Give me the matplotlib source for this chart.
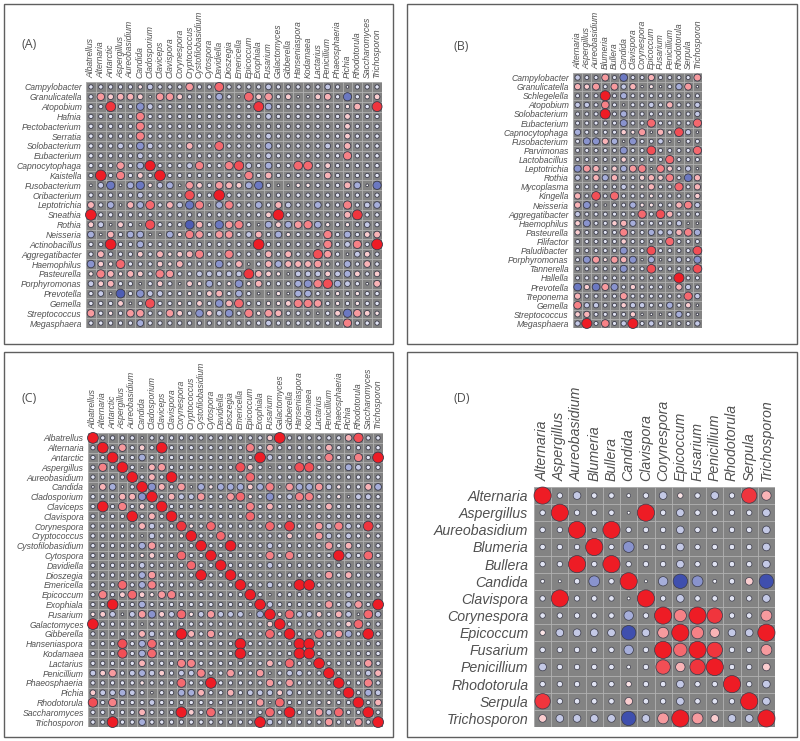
import numpy as np
import matplotlib
matplotlib.use("Agg")
import matplotlib.pyplot as plt
from matplotlib.patches import Ellipse, Rectangle
from matplotlib.colors import to_rgb

W, H = 800, 741
BASE = -1

FUNGI_30 = ["Albatrellus","Alternaria","Antarctic","Aspergillus","Aureobasidium","Candida","Cladosporium",
            "Claviceps","Clavispora","Corynespora","Cryptococcus","Cystofilobasidium","Cytospora","Davidiella",
            "Dioszegia","Emericella","Epicoccum","Exophiala","Fusarium","Galactomyces","Gibberella",
            "Hanseniaspora","Kodamaea","Lactarius","Penicillium","Phaeosphaeria","Pichia","Rhodotorula",
            "Saccharomyces","Trichosporon"]
FUNGI_14 = ["Alternaria","Aspergillus","Aureobasidium","Blumeria","Bullera","Candida","Clavispora",
            "Corynespora","Epicoccum","Fusarium","Penicillium","Rhodotorula","Serpula","Trichosporon"]
BACT_A = ["Campylobacter","Granulicatella","Atopobium","Hafnia","Pectobacterium","Serratia","Solobacterium",
          "Eubacterium","Capnocytophaga","Kaistella","Fusobacterium","Oribacterium","Leptotrichia","Sneathia",
          "Rothia","Neisseria","Actinobacillus","Aggregatibacter","Haemophilus","Pasteurella","Porphyromonas",
          "Prevotella","Gemella","Streptococcus","Megasphaera"]
BACT_B = ["Campylobacter","Granulicatella","Schlegelella","Atopobium","Solobacterium","Eubacterium",
          "Capnocytophaga","Fusobacterium","Parvimonas","Lactobacillus","Leptotrichia","Rothia","Mycoplasma",
          "Kingella","Neisseria","Aggregatibacter","Haemophilus","Pasteurella","Filifactor","Paludibacter",
          "Porphyromonas","Tannerella","Hallella","Prevotella","Treponema","Gemella","Streptococcus","Megasphaera"]

# Correlations in tenths, one {column: value} per row; unlisted cells read as BASE.
VALUES_A = [
 {10:4,13:6,6:-2,5:1,18:-2,24:-2,26:0},
 {1:4,2:2,3:3,4:3,5:2,6:0,7:4,8:4,9:2,13:-3,15:0,16:6,17:2,18:4,20:2,21:0,22:0,23:2,24:3,26:-5,28:1,29:2},
 {2:8,5:-4,6:-2,17:8,18:-3,24:1,26:1,27:3,29:8},
 {5:5,18:-2,26:2},
 {5:5,26:2},
 {5:5,18:-2,26:2},
 {3:-2,5:-4,6:-2,10:3,13:6,18:-3,24:-2,26:3},
 {5:-2,18:-2,26:5},
 {3:4,5:-3,6:9,10:-2,11:5,14:5,15:7,16:-2,18:-3,21:6,22:6,24:2},
 {1:10,3:5,5:2,7:10,16:5,18:3,24:3},
 {0:0,1:-2,2:-5,3:0,4:-3,5:-5,6:1,7:-2,8:-3,9:0,10:4,11:2,13:4,14:3,15:2,16:-3,17:-5,19:0,20:0,21:1,22:1,26:3,27:-3,28:0,29:-5},
 {5:-2,10:7,13:10},
 {0:3,2:-3,3:0,4:3,5:-3,6:6,8:3,9:-2,10:-5,11:5,12:0,13:-3,14:5,17:-3,19:3,20:-2,23:-3,26:5,28:-2,29:-3},
 {0:10,19:10,18:2,26:3,27:8},
 {0:2,1:-2,2:0,3:2,5:0,6:7,10:-6,11:3,13:-5,14:4,15:5,17:0,18:-3,19:2,20:-3,21:4,22:5,23:-3,24:1,26:1,28:-2},
 {0:-3,1:0,2:3,4:-3,5:-3,6:0,7:0,8:-3,9:1,10:5,11:4,13:4,14:4,16:-2,17:3,19:-3,20:1,24:5,26:-3,28:2,29:3},
 {2:10,5:-3,17:10,24:5,26:-2,27:5,29:10},
 {1:3,5:2,7:3,8:1,9:2,10:3,11:5,14:5,18:3,20:3,23:7,24:4,26:0,27:-2,28:2},
 {0:-4,1:2,2:1,3:6,7:2,8:1,9:3,13:-4,15:3,16:0,18:3,19:-3,20:3,21:3,22:3,23:4,24:1,26:-3,28:3},
 {0:1,1:5,2:3,3:1,4:3,5:2,7:5,8:4,11:-2,12:-2,13:-2,14:-2,15:-2,16:8,17:3,18:2,19:1,20:0,21:-2,22:-2,23:-2,24:2,25:-2,26:-3,27:2,29:2},
 {0:-2,1:2,2:3,5:0,7:2,9:0,10:2,11:1,12:-3,14:1,15:-4,16:1,17:3,21:-3,22:-4,23:5,24:7,25:-3,26:-2,28:0,29:3},
 {1:-2,2:0,3:-6,5:-4,6:-2,7:-2,10:1,12:2,13:3,15:-3,17:0,18:0,19:1,20:0,21:-3,22:-3,25:1,27:1},
 {3:2,4:0,6:7,9:1,11:2,13:-4,14:3,15:6,18:1,19:1,20:2,21:5,22:5,23:4,25:1,27:1},
 {0:4,2:1,4:4,5:4,8:4,9:2,11:-4,12:2,13:-2,14:-4,16:5,17:1,18:4,19:3,23:0,25:2,26:-5,27:4,28:2,29:1},
 {5:-3,18:-2,26:5},
]
VALUES_B = [
 {0:-2,3:4,5:-5,8:3,13:4},
 {0:3,1:2,2:4,4:4,5:-2,6:3,7:0,8:1,9:0,11:-3,12:4,13:0},
 {3:10,5:-3},
 {0:-2,1:-2,3:5,5:0,8:-2,10:3,13:-2},
 {3:10,5:-3,13:-2},
 {5:-4,8:6,13:6},
 {0:-3,5:2,6:1,7:4,8:0,9:3,10:1,11:7,12:-2,13:0},
 {1:-4,2:-4,3:3,4:-3,5:0,6:-4,9:-2,10:0,11:0},
 {5:-4,8:7,13:6},
 {5:2,10:6},
 {0:-4,1:4,2:3,4:2,5:-3,6:4,7:5,8:0,9:5,10:2,12:-2,13:0},
 {0:-2,2:3,3:-3,4:3,7:2,8:3,9:2,10:5,12:-5,13:3},
 {5:-2,7:1,8:3,11:6,13:3},
 {0:3,2:7,4:6,8:1,13:2},
 {0:3,1:-4,3:0,6:-3,7:1,8:1,11:3,12:5,13:-2},
 {0:-2,7:6,9:7,10:3},
 {0:2,1:-4,4:2,5:3,6:-3,11:-2,12:0,13:0},
 {0:2,5:5,8:-3,9:-2,10:-2,11:3,12:5,13:-3},
 {5:2,10:6},
 {5:-4,8:7,13:7},
 {1:-4,2:4,3:1,4:4,5:3,6:-4,7:0,8:-3,9:0,11:-2,13:-4},
 {5:-4,8:7,13:7},
 {11:10},
 {0:-5,1:2,2:-5,3:4,4:-4,6:2,10:0,11:3,12:-2},
 {0:3,5:4,12:6,13:-2},
 {0:5,1:-2,2:-2,5:2,6:-2,7:-2,10:-3,12:2,13:0},
 {0:2,1:3,6:2,7:0,8:0,9:0,11:-3,13:0},
 {0:-2,1:10,3:5,5:-2,6:10,8:-2,13:-2},
]
VALUES_C = [
 {0:10,5:0,18:2,19:10,26:3,27:7},
 {1:10,3:4,5:2,7:10,16:5,18:3,24:3},
 {2:10,5:-3,17:10,18:-2,24:5,27:5,29:10},
 {1:5,3:10,5:0,6:3,7:4,15:7,16:2,18:0,21:7,22:7,26:-3,27:-2},
 {4:10,6:3,8:10,16:6},
 {0:0,1:3,2:-3,3:0,5:10,6:-4,7:3,9:4,10:0,11:-3,12:1,13:-3,14:-3,15:-3,16:2,17:-3,18:5,19:0,20:4,21:-3,22:-3,23:4,24:-2,25:1,28:3,29:-3},
 {3:3,4:3,5:-4,6:10,8:3,9:-2,10:-2,11:4,14:4,15:6,16:1,18:-4,20:-2,21:5,22:5,25:1,26:0,27:-2,28:-2},
 {1:10,3:5,5:2,7:10,16:5,18:3,24:3},
 {4:10,6:3,8:10,16:6},
 {5:3,6:-2,9:8,10:1,12:6,18:6,20:8,23:4,24:-2,25:5,26:-2,28:8},
 {5:0,6:-2,9:1,10:10,13:6,20:2,23:4,24:-2,26:-2,28:1},
 {5:-3,6:4,11:10,14:10,18:-2,24:4,26:3},
 {5:1,6:2,9:6,12:10,18:5,20:5,25:10,26:-2,28:6},
 {5:-2,10:6,13:10,18:-2},
 {5:-3,6:4,11:10,14:10,24:4,26:3},
 {3:6,5:-3,6:5,15:10,18:-2,21:10,22:10},
 {1:5,3:2,4:6,5:2,6:1,7:4,8:5,16:10,18:0,26:-2},
 {2:10,5:-3,17:10,18:-2,24:4,26:-2,27:4,29:10},
 {0:1,1:2,2:-2,3:0,4:-2,5:4,6:-4,7:2,8:-2,9:6,10:1,11:-2,12:4,13:-2,14:-2,15:-2,16:0,17:-3,18:10,19:1,20:6,21:-2,22:-2,23:2,25:3,26:-2,27:0,28:6,29:-2},
 {0:10,5:0,18:2,19:10,26:2,27:6},
 {5:3,6:-2,9:10,10:3,12:4,18:6,20:10,23:6,24:-2,25:4,26:-3,28:10},
 {3:7,5:-3,6:6,15:10,21:10,22:10},
 {3:7,5:-3,6:6,15:10,21:10,22:10},
 {5:3,9:5,10:5,18:3,20:6,23:10,28:4},
 {0:-2,1:2,2:4,4:-2,5:-3,6:-2,7:2,9:-2,10:-2,11:5,14:4,17:4,18:0,20:-2,21:-2,24:10,28:-2,29:3},
 {5:1,9:6,12:10,18:4,20:4,25:10,28:5},
 {0:2,1:-2,2:-2,3:-3,4:-2,6:0,9:-3,10:-3,11:3,14:3,16:-2,17:-2,18:-2,19:2,20:-2,26:10,28:-3,29:-2},
 {0:7,2:5,6:-2,17:4,18:0,19:6,24:1,27:10,29:3},
 {5:3,9:10,10:2,12:6,18:6,20:10,23:4,24:-2,25:6,28:10},
 {2:10,5:-3,17:10,18:-2,24:4,27:4,29:10},
]
VALUES_D = [
 {0:10,2:-2,5:-0.5,7:-2,8:1,10:-2,12:8,13:3},
 {1:10,5:0,6:10,8:-2,13:-2},
 {2:10,4:10,8:-2,13:-2},
 {3:10,5:-4,8:-2,13:-2},
 {2:10,4:10,8:-2,13:-2},
 {0:-0.5,1:0,3:-4,5:10,6:0,7:-3,8:-7,9:-4,10:-0.5,12:2,13:-7},
 {1:10,5:0,6:10,8:-2,13:-2},
 {5:-3,7:10,8:5,9:10,10:8,13:4},
 {0:1,1:-2,2:-2,3:-2,4:-2,5:-7,6:-2,7:4,8:10,9:5,10:3,11:-2,12:-2,13:10},
 {5:-3,7:10,8:6,9:10,10:8,13:4},
 {0:-2,5:-0.5,7:7,8:3,9:8,10:10,13:2},
 {5:1,8:-2,11:10,13:-2},
 {0:8,5:2,8:-2,12:10,13:-2},
 {0:2,1:-2,2:-2,3:-2,4:-2,5:-7,6:-2,7:4,8:10,9:4,10:2,11:-2,12:-2,13:10},
]

RED = np.array(to_rgb("#ee1c25"))
BLUE = np.array(to_rgb("#3f4fae"))
WHITE = np.ones(3)
TEXT = "#505050"
plt.rcParams["font.family"] = ["Liberation Sans", "DejaVu Sans"]

fig = plt.figure(figsize=(W / 100, H / 100), dpi=100, facecolor="white")


def colour(v):
    if v >= 0:
        return WHITE + (RED - WHITE) * min(v / 9, 1)
    return WHITE + (BLUE - WHITE) * min(-v / 6.5, 1)


def panel(tag, frame, grid, tag_xy, rows, cols, values, fs, lw, pad, scale, power):
    x0, y0, x1, y1 = frame
    fig.add_artist(Rectangle((x0 / W, 1 - y1 / H), (x1 - x0) / W, (y1 - y0) / H, transform=fig.transFigure,
                             fill=False, edgecolor="#5f5f5f", linewidth=1.0))
    fig.text(tag_xy[0] / W, 1 - tag_xy[1] / H, tag, fontsize=9, color=TEXT, family="Open Sans", va="center")
    gx0, gy0, gx1, gy1 = grid
    ax = fig.add_axes([gx0 / W, 1 - gy1 / H, (gx1 - gx0) / W, (gy1 - gy0) / H])
    ax.set_facecolor("#838383")
    ax.set_xlim(0, len(cols))
    ax.set_ylim(len(rows), 0)
    for s in ax.spines.values():
        s.set_visible(False)
    ax.set_xticks(np.arange(len(cols) + 1), minor=True)
    ax.set_yticks(np.arange(len(rows) + 1), minor=True)
    ax.grid(which="minor", color="#b2b2b2", linewidth=0.6)
    ax.set_axisbelow(True)
    ax.set_xticks(np.arange(len(cols)) + 0.5)
    ax.set_yticks(np.arange(len(rows)) + 0.5)
    ax.xaxis.tick_top()
    ax.set_xticklabels(cols, rotation=90, style="italic", fontsize=fs, color=TEXT, ha="center", va="bottom")
    ax.set_yticklabels(rows, style="italic", fontsize=fs, color=TEXT)
    ax.tick_params(which="both", length=0, pad=pad)
    for i, row in enumerate(values):
        for j in range(len(cols)):
            v = row.get(j, BASE)
            d = scale * (max(abs(v), 0.3) / 10) ** power
            ax.add_patch(Ellipse((j + 0.5, i + 0.5), d, d, facecolor=colour(v),
                                 edgecolor="#3b3b4a", linewidth=lw, clip_on=False, zorder=3))


panel("(A)", (4, 4, 393, 344), (86, 82, 382, 328), (22, 45), BACT_A, FUNGI_30, VALUES_A, 6.2, 0.6, 3, 1.1, 0.4)
panel("(B)", (407, 4, 797, 344), (573, 73, 702, 328), (454, 46), BACT_B, FUNGI_14, VALUES_B, 6.2, 0.6, 3, 1.1, 0.4)
panel("(C)", (4, 352, 393, 737), (88, 433, 383, 727), (22, 399), FUNGI_30, FUNGI_30, VALUES_C, 6.2, 0.6, 3, 1.1, 0.4)
panel("(D)", (407, 352, 797, 737), (534, 487, 775, 727), (454, 399), FUNGI_14, FUNGI_14, VALUES_D, 10.2, 0.5, 4, 1.0, 0.5)

fig.savefig("out.png", dpi=100)
